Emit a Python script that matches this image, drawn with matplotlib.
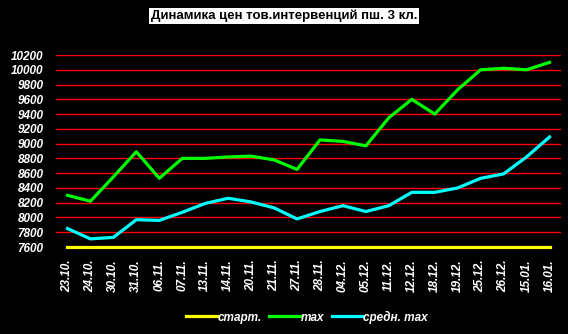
import matplotlib
matplotlib.use("Agg")
import matplotlib.pyplot as plt
import numpy as np

# data
dates = ["23.10.", "24.10.", "30.10.", "31.10.", "06.11.", "07.11.", "13.11.",
         "14.11.", "20.11.", "21.11.", "27.11.", "28.11.", "04.12.", "05.12.",
         "11.12.", "12.12.", "18.12.", "19.12.", "25.12.", "26.12.", "15.01.",
         "16.01."]
start_price = [7600] * len(dates)
max_price = [8300, 8220, 8550, 8890, 8530, 8800, 8800, 8820, 8830, 8780, 8650,
             9050, 9030, 8970, 9350, 9600, 9400, 9730, 10000, 10020, 10000,
             10100]
avg_max_price = [7850, 7710, 7730, 7970, 7960, 8070, 8190, 8260, 8210, 8130,
                 7980, 8080, 8160, 8080, 8160, 8340, 8340, 8400, 8530, 8590,
                 8820, 9090]
yticks = list(range(7600, 10201, 200))

BLACK = "#000000"
WHITE = "#ffffff"
RED = "#ff0000"
YELLOW = "#ffff00"
GREEN = "#00ff00"
CYAN = "#00ffff"

plt.rcParams.update({
    "font.family": ["Liberation Sans", "DejaVu Sans"],
    "figure.facecolor": BLACK, "axes.facecolor": BLACK,
})

fig = plt.figure(figsize=(5.68, 3.34), dpi=100)
ax = fig.add_axes([56 / 568, 87 / 334, 505 / 568, 192 / 334])

x = np.arange(len(dates))
for v in yticks[1:]:
    ax.axhline(v, color=RED, lw=1.0, zorder=1)

ax.plot(x, start_price, color=YELLOW, lw=2.3, label="старт.", zorder=3,
        clip_on=False)
ax.plot(x, max_price, color=GREEN, lw=2.3, label="max", zorder=3)
ax.plot(x, avg_max_price, color=CYAN, lw=2.3, label="средн. max", zorder=3)

ax.set_xlim(-0.5, len(dates) - 0.5)
ax.set_ylim(7600, 10200)
ax.set_yticks(yticks)
ax.set_xticks(x, dates, rotation=90)
ax.tick_params(length=0, colors=WHITE, labelsize=8.5, pad=9)
for lab in ax.get_xticklabels() + ax.get_yticklabels():
    lab.set_fontweight("bold")
    lab.set_fontstyle("italic")
    lab.set_color(WHITE)
for s in ax.spines.values():
    s.set_visible(False)

fig.text(0.5, 1 - 16 / 334, "Динамика цен тов.интервенций пш. 3 кл.",
         ha="center", va="center", fontsize=9.5, fontweight="bold",
         color=BLACK, bbox=dict(facecolor=WHITE, edgecolor="none", pad=1.2))

leg = fig.legend(loc="center", bbox_to_anchor=(307 / 568, 1 - 317 / 334),
                 ncol=3, frameon=False, handlelength=2.6, handletextpad=0.1,
                 columnspacing=0.6,
                 prop={"weight": "bold", "style": "italic", "size": 8.5})
for t in leg.get_texts():
    t.set_color(WHITE)

fig.savefig("out.png", dpi=100, facecolor=BLACK)
